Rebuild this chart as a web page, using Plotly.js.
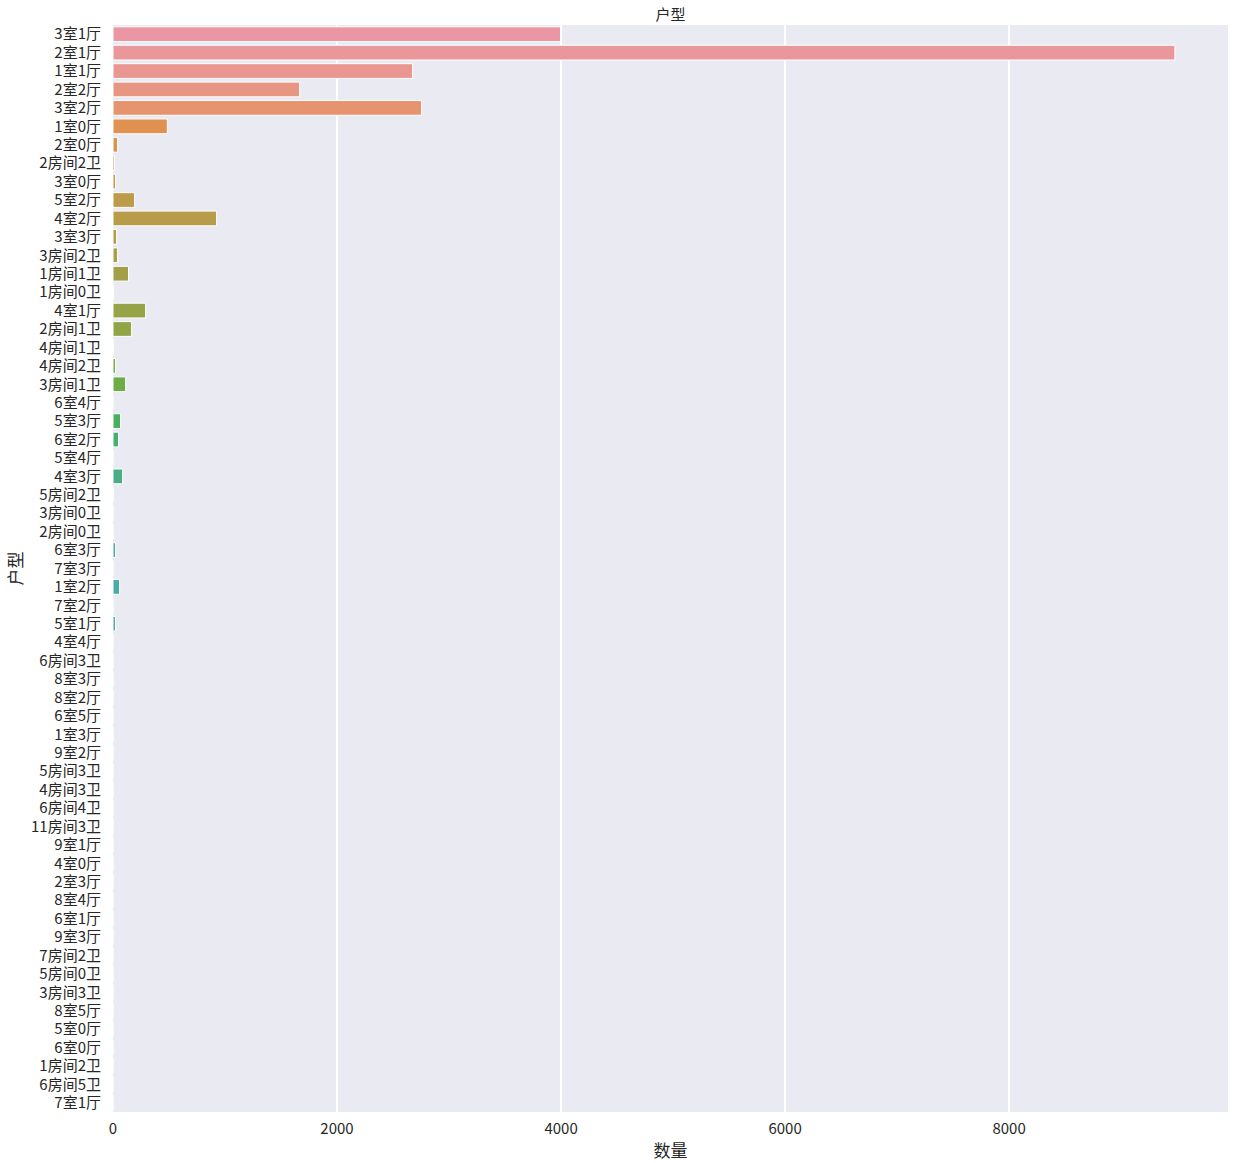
<!DOCTYPE html>
<html>
<head>
<meta charset="utf-8">
<script src="https://cdn.plot.ly/plotly-3.0.1.min.js"></script>
<style>html,body{margin:0;padding:0;background:#fff;}#chart{width:1234px;height:1163px;}</style>
</head>
<body>
<div id="chart"></div>
<script>
// ---- data ----
var categories = ["3室1厅","2室1厅","1室1厅","2室2厅","3室2厅","1室0厅","2室0厅","2房间2卫","3室0厅","5室2厅",
  "4室2厅","3室3厅","3房间2卫","1房间1卫","1房间0卫","4室1厅","2房间1卫","4房间1卫","4房间2卫","3房间1卫",
  "6室4厅","5室3厅","6室2厅","5室4厅","4室3厅","5房间2卫","3房间0卫","2房间0卫","6室3厅","7室3厅",
  "1室2厅","7室2厅","5室1厅","4室4厅","6房间3卫","8室3厅","8室2厅","6室5厅","1室3厅","9室2厅",
  "5房间3卫","4房间3卫","6房间4卫","11房间3卫","9室1厅","4室0厅","2室3厅","8室4厅","6室1厅","9室3厅",
  "7房间2卫","5房间0卫","3房间3卫","8室5厅","5室0厅","6室0厅","1房间2卫","6房间5卫","7室1厅"];
var counts = [3995, 9480, 2675, 1666, 2755, 485, 41, 14, 23, 193,
  925, 32, 41, 139, 4, 291, 166, 3, 23, 113,
  2, 68, 50, 2, 86, 5, 1, 1, 23, 2,
  59, 2, 22, 1, 1, 1, 1, 1, 1, 1,
  1, 1, 1, 1, 1, 1, 1, 1, 1, 1,
  1, 1, 1, 1, 1, 1, 1, 1, 1];
var xTickVals = [0, 2000, 4000, 6000, 8000];

// ---- seaborn-like husl palette (l=.7) desaturated by .75 ----
var M = [[3.2406,-1.5372,-0.4986],[-0.9689,1.8758,0.0415],[0.0557,-0.2040,1.0570]];
function maxChroma(L, H){
  var hr = H*Math.PI/180, sH = Math.sin(hr), cH = Math.cos(hr);
  var sub1 = Math.pow(L+16,3)/1560896.0;
  var sub2 = sub1 > 0.008856 ? sub1 : L/903.3;
  var res = Infinity;
  M.forEach(function(r){
    var m1=r[0], m2=r[1], m3=r[2];
    var top = (0.99915*m1 + 1.05122*m2 + 1.14460*m3)*sub2;
    var rb = 0.86330*m3 - 0.17266*m2;
    var lb = 0.12949*m3 - 0.38848*m1;
    var bottom = (rb*sH + lb*cH)*sub2;
    [0,1].forEach(function(t){
      var C = L*(top - 1.05122*t)/(bottom + 0.17266*sH*t);
      if (C > 0 && C < res) res = C;
    });
  });
  return res;
}
function huslToRgb(H, S, L){
  var C = maxChroma(L, H)/100*S;
  var hr = H*Math.PI/180;
  var U = Math.cos(hr)*C, V = Math.sin(hr)*C;
  var t = (L+16)/116;
  var varY = Math.pow(t,3) > 0.008856 ? Math.pow(t,3) : (116*t-16)/903.3;
  var varU = U/(13*L) + 0.19784, varV = V/(13*L) + 0.46834;
  var Y = varY;
  var X = -(9*Y*varU)/((varU-4)*varV - varU*varV);
  var Z = (9*Y - 15*varV*Y - varV*X)/(3*varV);
  return M.map(function(r){
    var c = r[0]*X + r[1]*Y + r[2]*Z;
    c = c <= 0.0031308 ? 12.92*c : 1.055*Math.pow(c,1/2.4) - 0.055;
    return Math.min(1, Math.max(0, c));
  });
}
function rgbToHls(r,g,b){
  var mx=Math.max(r,g,b), mn=Math.min(r,g,b), l=(mx+mn)/2, h, s;
  if (mx===mn) return [0,l,0];
  var d = mx-mn;
  s = l <= 0.5 ? d/(mx+mn) : d/(2-mx-mn);
  var rc=(mx-r)/d, gc=(mx-g)/d, bc=(mx-b)/d;
  if (r===mx) h = bc-gc; else if (g===mx) h = 2+rc-bc; else h = 4+gc-rc;
  h = ((h/6)%1+1)%1;
  return [h,l,s];
}
function v(m1,m2,h){ h=((h%1)+1)%1;
  if (h<1/6) return m1+(m2-m1)*h*6; if (h<0.5) return m2; if (h<2/3) return m1+(m2-m1)*(2/3-h)*6; return m1; }
function hlsToRgb(h,l,s){
  if (s===0) return [l,l,l];
  var m2 = l<=0.5 ? l*(1+s) : l+s-l*s, m1 = 2*l-m2;
  return [v(m1,m2,h+1/3), v(m1,m2,h), v(m1,m2,h-1/3)];
}
var n = categories.length;
var colors = [];
for (var i=0;i<n;i++){
  var hue = ((i/n) + 0.01) % 1 * 359;
  var rgb = huslToRgb(hue, 0.9*99, 0.7*99);
  var hls = rgbToHls(rgb[0],rgb[1],rgb[2]);
  var o = hlsToRgb(hls[0], hls[1], hls[2]*0.75);
  colors.push('rgb(' + o.map(function(c){return Math.round(c*255);}).join(',') + ')');
}

var FONT = '"Noto Sans CJK SC", "DejaVu Sans", sans-serif';
var trace = {
  type: 'bar', orientation: 'h',
  y: categories, x: counts,
  width: 0.8,
  marker: {color: colors, line: {color: '#ffffff', width: 1}},
  hoverinfo: 'x+y'
};
var layout = {
  width: 1234, height: 1163,
  margin: {l: 113, r: 6, t: 25, b: 51, pad: 0},
  paper_bgcolor: '#ffffff', plot_bgcolor: '#EAEAF2',
  showlegend: false,
  font: {family: FONT, color: '#262626', size: 15},
  title: {text: '户型', font: {family: FONT, size: 15, color: '#262626'}, x: 0.5, xanchor: 'center', xref: 'paper', y: 1, yref: 'paper', yanchor: 'bottom', pad: {b: 5}},
  xaxis: {
    range: [0, 9954], tickvals: xTickVals, ticktext: xTickVals.map(String),
    showgrid: true, gridcolor: '#ffffff', gridwidth: 1.3, zeroline: false,
    showline: false, ticks: '', tickfont: {size: 15, color: '#262626'},
    ticklabelstandoff: 6,
    title: {text: '数量', font: {size: 17, color: '#262626'}, standoff: 8},
    automargin: false
  },
  yaxis: {
    type: 'category', range: [n-0.5, -0.5], showgrid: false, zeroline: false,
    showline: false, ticks: '', tickfont: {size: 15, color: '#262626'},
    ticklabelstandoff: 11,
    title: {text: '户型', font: {size: 17, color: '#262626'}, standoff: 4},
    automargin: false
  },
  bargap: 0.2
};
Plotly.newPlot('chart', [trace], layout, {displayModeBar: false, staticPlot: true});
</script>
</body>
</html>
